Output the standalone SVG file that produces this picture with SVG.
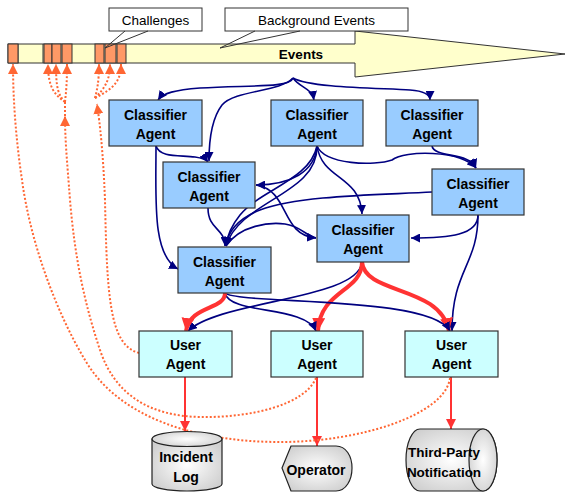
<svg xmlns="http://www.w3.org/2000/svg" width="565" height="492" viewBox="0 0 565 492">
<defs>
<style>
.cls rect{fill:#99CCFF;stroke:#333;stroke-width:1.2}
.usr rect{fill:#CCFFFF;stroke:#333;stroke-width:1.2}
.t{font-family:"Liberation Sans",Arial,sans-serif;font-weight:bold;font-size:14px;fill:#000;text-anchor:middle}
.r{font-family:"Liberation Sans",Arial,sans-serif;font-size:13.5px;fill:#000;text-anchor:middle}
.nv{fill:none;stroke:#000080;stroke-width:1.6}
.rd{fill:none;stroke:#FF3333;stroke-width:4}
.rd2{fill:none;stroke:#FF3333;stroke-width:2}
.dt{fill:none;stroke:#FF6633;stroke-width:2;stroke-dasharray:2 2}
.cell{fill:#FF9966;stroke:#333;stroke-width:1}
.out{fill:url(#g);stroke:#222;stroke-width:1.2}
</style>
<radialGradient id="g" cx="0.5" cy="0.5" r="0.6">
<stop offset="0" stop-color="#ffffff"/>
<stop offset="1" stop-color="#cfcfcf"/>
</radialGradient>
<marker id="an" viewBox="0 0 10 10" refX="10" refY="5" markerWidth="9" markerHeight="9" markerUnits="userSpaceOnUse" orient="auto"><path d="M0,0 L10,5 L0,10 z" fill="#000080"/></marker>
<marker id="ar" viewBox="0 0 10 10" refX="10" refY="5" markerWidth="13" markerHeight="13" markerUnits="userSpaceOnUse" orient="auto"><path d="M0,0 L10,5 L0,10 z" fill="#FF3333"/></marker>
<marker id="ar2" viewBox="0 0 10 10" refX="10" refY="5" markerWidth="10" markerHeight="10" markerUnits="userSpaceOnUse" orient="auto"><path d="M0,0 L10,5 L0,10 z" fill="#FF3333"/></marker>
<marker id="ao" viewBox="0 0 10 10" refX="10" refY="5" markerWidth="10" markerHeight="10" markerUnits="userSpaceOnUse" orient="auto"><path d="M0,0 L10,5 L0,10 z" fill="#FF6633"/></marker>
</defs>

<g id="events">
<path d="M8,44 H355 V31 L565,54 L355,77 V63 H8 Z" fill="#FFFFCC" stroke="#333" stroke-width="1"/>
<line x1="18" y1="44" x2="18" y2="63" stroke="#333"/>
<line x1="43" y1="44" x2="43" y2="63" stroke="#333"/>
<rect class="cell" x="8" y="44" width="10" height="19"/>
<rect class="cell" x="44" y="44" width="8" height="19"/>
<rect class="cell" x="52" y="44" width="9" height="19"/>
<rect class="cell" x="62" y="44" width="10" height="19"/>
<rect class="cell" x="95" y="44" width="9" height="19"/>
<rect class="cell" x="105" y="44" width="11" height="19"/>
<rect class="cell" x="117" y="44" width="9" height="19"/>
<text class="t" x="301" y="59" style="font-size:13.5px">Events</text>
</g>

<g id="callout-challenges">
<rect x="109" y="8" width="93" height="23" fill="#fff" stroke="#333" stroke-width="1"/>
<polyline points="125,31 105,48 148,31" fill="none" stroke="#333" stroke-width="1"/>
<text class="r" x="155.5" y="25">Challenges</text>
</g>
<g id="callout-background">
<rect x="225" y="8" width="183" height="23" fill="#fff" stroke="#333" stroke-width="1"/>
<polyline points="255,31 220,48 300,31" fill="none" stroke="#333" stroke-width="1"/>
<text class="r" x="316.5" y="25">Background Events</text>
</g>

<g id="connectors">
<!-- from events -->
<path class="nv" marker-end="url(#an)" d="M293,78 C290,88 250,85 200,88 C175,90 163,93 158,100"/>
<path class="nv" marker-end="url(#an)" d="M293,78 C280,92 235,90 222,105 C212,118 209,140 209,161"/>
<path class="nv" marker-end="url(#an)" d="M293,78 C300,88 312,88 314,100"/>
<path class="nv" marker-end="url(#an)" d="M293,78 C310,88 380,88 410,90 C425,91 430,95 430,100"/>
<!-- A1 -->
<path class="nv" marker-end="url(#an)" d="M156,146 C160,158 180,155 195,157 C202,158 206,159 208,162"/>
<path class="nv" marker-end="url(#an)" d="M156,146 C156,200 152,255 178,269"/>
<!-- A2 -->
<path class="nv" marker-end="url(#an)" d="M317,146 C315,172 290,185 256,185"/>
<path class="nv" marker-end="url(#an)" d="M317,146 C318,195 240,200 226,246"/>
<path class="nv" d="M317,146 C310,180 260,190 240,215 C232,225 227,235 226,246"/>
<path class="nv" marker-end="url(#an)" d="M317,146 C322,180 360,175 362,214"/>
<path class="nv" marker-end="url(#an)" d="M317,146 C325,165 375,166 392,160 C405,150 460,150 476,168"/>
<!-- A3 -->
<path class="nv" marker-end="url(#an)" d="M432,146 C434,158 470,152 476,168"/>
<!-- A4 -->
<path class="nv" marker-end="url(#an)" d="M208,208 C208,230 225,228 225,246"/>
<path class="nv" marker-end="url(#an)" d="M256,185 C290,190 280,235 316,238"/>
<!-- A7 top to A6 -->
<path class="nv" d="M226,246 C240,225 270,222 285,224 C300,226 305,235 316,238"/>
<!-- A5 -->
<path class="nv" marker-end="url(#an)" d="M432,192 C380,195 300,195 260,210 C240,218 228,230 226,246"/>
<path class="nv" marker-end="url(#an)" d="M478,215 C478,235 450,238 411,238"/>
<path class="nv" marker-end="url(#an)" d="M478,215 C478,265 452,270 452,331"/>
<!-- A6 -->
<path class="nv" marker-end="url(#an)" d="M362,262 C358,300 220,300 188,331"/>
<path class="rd" marker-end="url(#ar)" d="M362,262 C362,292 320,290 318,331"/>
<path class="rd" marker-end="url(#ar)" d="M362,262 C365,295 440,285 449,331"/>
<!-- A7 -->
<path class="nv" marker-end="url(#an)" d="M225,293 C230,315 305,305 316,331"/>
<path class="nv" marker-end="url(#an)" d="M225,293 C240,305 430,295 450,331"/>
<path class="rd" marker-end="url(#ar)" d="M225,293 C225,310 190,305 186,331"/>
<!-- user agents to outputs -->
<path class="rd2" marker-end="url(#ar2)" d="M185,377 V431"/>
<path class="rd2" marker-end="url(#ar2)" d="M317,377 V446"/>
<path class="rd2" marker-end="url(#ar2)" d="M451,377 V429"/>
<!-- dotted feedback -->
<path class="dt" marker-end="url(#ao)" d="M450,378 C445,415 360,442 280,442 C200,442 120,420 85,360 C55,310 30,240 22,180 C16,140 13,100 13,64"/>
<path class="dt" marker-end="url(#ao)" d="M316,378 C305,405 250,418 200,417 C150,416 115,395 100,350 C85,305 75,260 70,200 C67,160 65,140 65,116"/>
<path class="dt" d="M65,120 V102"/>
<path class="dt" marker-end="url(#ao)" d="M65,102 C55,95 48,88 48,64"/>
<path class="dt" marker-end="url(#ao)" d="M65,102 C58,95 56,88 56,64"/>
<path class="dt" marker-end="url(#ao)" d="M65,102 C66,92 67,85 67,64"/>
<path class="dt" marker-end="url(#ao)" d="M139,353 C110,345 107,300 105,200 C103,150 100,125 97,104"/>
<path class="dt" marker-end="url(#ao)" d="M95,98 C97,90 99,82 99,64"/>
<path class="dt" marker-end="url(#ao)" d="M95,98 C105,88 110,80 110,64"/>
<path class="dt" marker-end="url(#ao)" d="M95,98 C115,88 121,80 121,64"/>
</g>

<g id="ca1" class="cls"><rect x="109" y="100" width="93" height="46"/><text class="t" x="155.5" y="120">Classifier</text><text class="t" x="155.5" y="139">Agent</text></g>
<g id="ca2" class="cls"><rect x="271" y="100" width="92" height="46"/><text class="t" x="317" y="120">Classifier</text><text class="t" x="317" y="139">Agent</text></g>
<g id="ca3" class="cls"><rect x="386" y="100" width="92" height="46"/><text class="t" x="432" y="120">Classifier</text><text class="t" x="432" y="139">Agent</text></g>
<g id="ca4" class="cls"><rect x="163" y="162" width="92" height="46"/><text class="t" x="209" y="182">Classifier</text><text class="t" x="209" y="201">Agent</text></g>
<g id="ca5" class="cls"><rect x="432" y="169" width="92" height="46"/><text class="t" x="478" y="189">Classifier</text><text class="t" x="478" y="208">Agent</text></g>
<g id="ca6" class="cls"><rect x="317" y="215" width="92" height="47"/><text class="t" x="363" y="235">Classifier</text><text class="t" x="363" y="254">Agent</text></g>
<g id="ca7" class="cls"><rect x="178" y="247" width="93" height="46"/><text class="t" x="224.5" y="267">Classifier</text><text class="t" x="224.5" y="286">Agent</text></g>

<g id="ua1" class="usr"><rect x="139" y="331" width="93" height="46"/><text class="t" x="185.5" y="350">User</text><text class="t" x="185.5" y="369">Agent</text></g>
<g id="ua2" class="usr"><rect x="271" y="331" width="92" height="46"/><text class="t" x="317" y="350">User</text><text class="t" x="317" y="369">Agent</text></g>
<g id="ua3" class="usr"><rect x="405" y="331" width="93" height="46"/><text class="t" x="451.5" y="350">User</text><text class="t" x="451.5" y="369">Agent</text></g>

<g id="incident-log">
<path class="out" d="M152,439 V484 A35,7 0 0 0 222,484 V439 Z"/>
<ellipse class="out" cx="187" cy="439" rx="35" ry="7.5"/>
<text class="t" x="186" y="462">Incident</text><text class="t" x="186" y="482">Log</text>
</g>
<g id="operator">
<path class="out" d="M282,468 L291,446 H336 C346,446 352,456 352,468 C352,480 346,491 336,491 H291 Z"/>
<text class="t" x="316" y="475">Operator</text>
</g>
<g id="third-party">
<path class="out" d="M420,429 H483 A14,31 0 0 1 483,491 H420 A14,31 0 0 1 420,429 Z"/>
<ellipse class="out" cx="483" cy="460" rx="14" ry="31"/>
<text class="t" x="444" y="457" style="font-size:13.5px">Third-Party</text><text class="t" x="444" y="477" style="font-size:13.5px">Notification</text>
</g>
</svg>
